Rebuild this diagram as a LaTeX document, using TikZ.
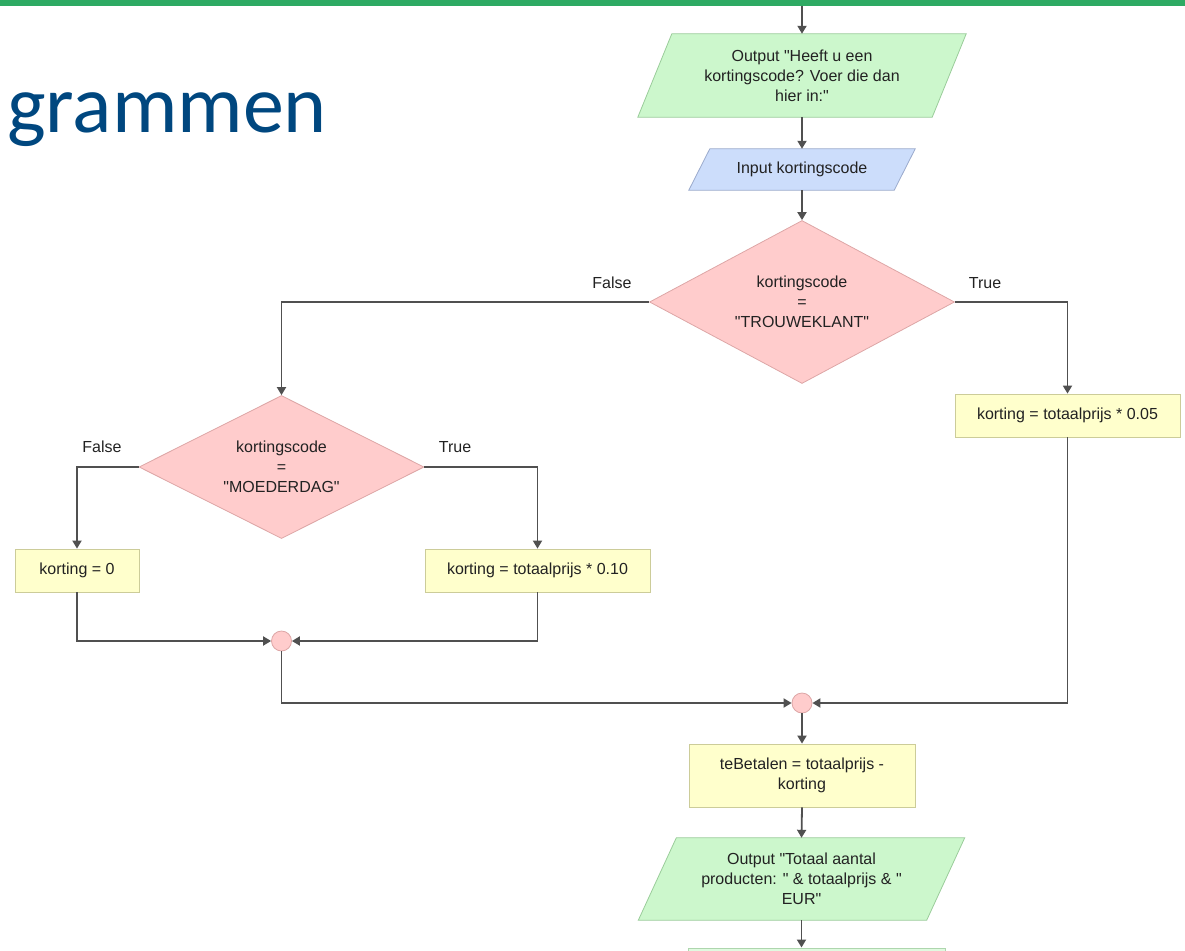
\documentclass[tikz,border=0pt]{standalone}
\usepackage{fontspec}
\newfontfamily\flowfont{Liberation Sans}
\newfontfamily\titlefont{Carlito}
\usetikzlibrary{arrows.meta,shapes.geometric,backgrounds}

\definecolor{linec}{HTML}{505050}
\definecolor{outfill}{HTML}{CCF7CC}
\definecolor{outdraw}{HTML}{9ACC9A}
\definecolor{infill}{HTML}{CCDDFB}
\definecolor{indraw}{HTML}{9AAACC}
\definecolor{decfill}{HTML}{FFCCCC}
\definecolor{decdraw}{HTML}{DDA6A6}
\definecolor{asgfill}{HTML}{FFFFCC}
\definecolor{asgdraw}{HTML}{CCCC99}
\definecolor{titleblue}{HTML}{00477F}
\definecolor{bargreen}{HTML}{2EAA63}
\definecolor{txt}{HTML}{222222}

\begin{document}
\begin{tikzpicture}[x=1pt,y=-1pt,
 every node/.style={font=\flowfont\fontsize{16}{20}\selectfont, text=txt},
 flow/.style={draw=linec, line width=1.8pt, -{Triangle[length=8pt,width=9pt]}},
 assign/.style={rectangle, draw=asgdraw, fill=asgfill, line width=0.8pt, minimum height=43pt, align=center, inner sep=0pt},
 decision/.style={diamond, draw=decdraw, fill=decfill, line width=0.8pt, inner sep=0pt, align=center},
 iotext/.style={rectangle, inner sep=0pt, align=center},
 outshape/.style={fill=outfill, draw=outdraw, line width=0.8pt},
 inshape/.style={fill=infill, draw=indraw, line width=0.8pt},
 merge/.style={circle, draw=decdraw, fill=decfill, line width=0.8pt, minimum size=20pt, inner sep=0pt},
 lbl/.style={inner sep=0pt},
]
\useasboundingbox (0,0) rectangle (1185,950);
\fill[bargreen] (0,0) rectangle (1185,6);
\node[anchor=base east, font=\titlefont\fontsize{82}{88}\selectfont, text=titleblue, inner sep=0pt] (title) at (327,132) {grammen};

\coordinate (topin) at (802,6);

% spine top
\node[iotext, minimum width=294pt, minimum height=83pt] (out1) at (802,75.5) {Output "Heeft u een\\kortingscode? Voer die dan\\hier in:"};
\node[iotext, minimum width=205pt, minimum height=41pt] (in1) at (802,169.5) {Input kortingscode};
\node[decision, minimum width=305pt, minimum height=163pt, shape aspect=1.87] (dec1) at (802,302) {kortingscode\\=\\"TROUWEKLANT"};

\node[lbl] (f1) at (612,283) {False};
\node[lbl] (t1) at (985,283) {True};

\node[assign, minimum width=225pt] (box05) at (1067.5,415.5) {korting = totaalprijs * 0.05};

\node[decision, minimum width=285pt, minimum height=143pt, shape aspect=2] (dec2) at (281.5,467) {kortingscode\\=\\"MOEDERDAG"};
\node[lbl] (f2) at (102,447) {False};
\node[lbl] (t2) at (455,447) {True};

\node[assign, minimum width=124pt] (box0) at (77,570.5) {korting = 0};
\node[assign, minimum width=225pt] (box10) at (537.5,570.5) {korting = totaalprijs * 0.10};

\node[merge] (m1) at (281.5,641) {};
\node[merge] (m2) at (802,703) {};

\node[assign, minimum width=226pt, minimum height=63pt] (tb) at (802,775.5) {teBetalen = totaalprijs -\\korting};
\node[iotext, minimum width=288pt, minimum height=82pt] (out2) at (801.5,879) {Output "Totaal aantal\\producten: " \& totaalprijs \& "\\EUR"};
\node[rectangle, draw=outdraw!80!white, fill=outfill!60!white, line width=0.8pt, minimum width=257pt, minimum height=43pt, anchor=north] (next) at (816.5,947.5) {};

\begin{scope}[on background layer]
\draw[outshape] ([xshift=17pt]out1.north west) -- ([xshift=17pt]out1.north east) -- ([xshift=-17pt]out1.south east) -- ([xshift=-17pt]out1.south west) -- cycle;
\draw[inshape] ([xshift=10.5pt]in1.north west) -- ([xshift=10.5pt]in1.north east) -- ([xshift=-10.5pt]in1.south east) -- ([xshift=-10.5pt]in1.south west) -- cycle;
\draw[outshape] ([xshift=19pt]out2.north west) -- ([xshift=19pt]out2.north east) -- ([xshift=-19pt]out2.south east) -- ([xshift=-19pt]out2.south west) -- cycle;
\end{scope}

% connectors
\draw[flow] (topin) -- (out1.north);
\draw[flow] (out1.south) -- (in1.north);
\draw[flow] (in1.south) -- (dec1.north);
\draw[flow] (dec1.west) -| (dec2.north);
\draw[flow] (dec1.east) -| (box05.north);
\draw[flow] (dec2.west) -| (box0.north);
\draw[flow] (dec2.east) -| (box10.north);
\draw[flow] (box0.south) |- (m1.west);
\draw[flow] (box10.south) |- (m1.east);
\draw[flow] (m1.south) |- (m2.west);
\draw[flow] (box05.south) |- (m2.east);
\draw[flow] (m2.south) -- (tb.north);
\draw[flow] (tb.south) -- (out2.north);
\draw[flow] (out2.south) -- (out2.south |- next.north);
\end{tikzpicture}
\end{document}
